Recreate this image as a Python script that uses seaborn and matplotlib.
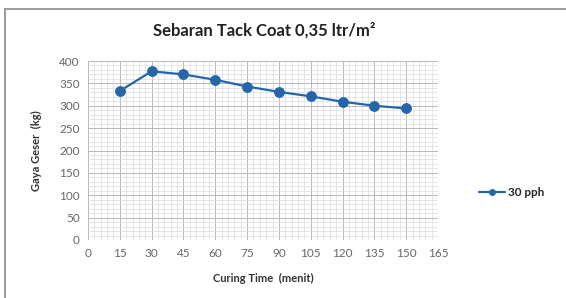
import numpy as np
import pandas as pd
import matplotlib
matplotlib.use('Agg')
import matplotlib.pyplot as plt
from matplotlib.patches import Rectangle
from matplotlib.ticker import MultipleLocator
import seaborn as sns

# data
curing_time = [15, 30, 45, 60, 75, 90, 105, 120, 135, 150]
gaya_geser = [333, 377, 370, 358, 343, 331, 321, 309, 300, 294]
series_name = '30 pph'

sns.set_style('white')
plt.rcParams['font.family'] = ['Lato', 'DejaVu Sans']

df = pd.DataFrame({'Curing Time': curing_time, 'Gaya Geser': gaya_geser,
                   'seri': series_name})

fig = plt.figure(figsize=(5.66, 2.98), dpi=100)
ax = fig.add_axes([88 / 566, 1 - 240 / 298, 350 / 566, 179 / 298])

# outer chart frame (runs off the right and bottom edges like the screenshot)
fig.patches.append(Rectangle((5 / 566, -5 / 298), 570 / 566, 294 / 298,
                             transform=fig.transFigure, fill=False,
                             edgecolor='#9a9a9a', linewidth=1.4))

sns.lineplot(data=df, x='Curing Time', y='Gaya Geser', hue='seri',
             palette=['#2466a8'], marker='o', markersize=7,
             markeredgecolor='#2466a8', linewidth=1.6, ax=ax, legend=True)
for ln in ax.lines:
    ln.set_zorder(5)

ax.set_xlim(0, 165)
ax.set_ylim(0, 400)
ax.xaxis.set_major_locator(MultipleLocator(15))
ax.yaxis.set_major_locator(MultipleLocator(50))
ax.xaxis.set_minor_locator(MultipleLocator(3))
ax.yaxis.set_minor_locator(MultipleLocator(10))
ax.grid(which='major', color='#b8b8b8', linewidth=0.7)
ax.grid(which='minor', color='#dcdcdc', linewidth=0.5)
ax.set_axisbelow(True)
for s in ax.spines.values():
    s.set_visible(False)
ax.tick_params(which='both', length=0, labelsize=8.5, colors='#666666', pad=6)

ax.set_xlabel('Curing Time  (menit)', fontsize=8, fontweight='bold',
              color='#333333', labelpad=10)
ax.set_ylabel('Gaya Geser  (kg)', fontsize=8, fontweight='bold',
              color='#333333', labelpad=12)
fig.text(264 / 566, 1 - 30 / 298, 'Sebaran Tack Coat 0,35 ltr/m²', ha='center',
         va='center', fontsize=12, fontweight='bold', color='#222222')

ax.legend(handles=ax.get_legend_handles_labels()[0],
          labels=[series_name], loc='center left',
          bbox_to_anchor=(468 / 566, 1 - 193 / 298),
          bbox_transform=fig.transFigure, frameon=False, fontsize=8.5,
          handlelength=2.2, handletextpad=0.3, markerscale=0.6)
for t in ax.get_legend().get_texts():
    t.set_fontweight('bold')

fig.savefig('out.png', dpi=100)
